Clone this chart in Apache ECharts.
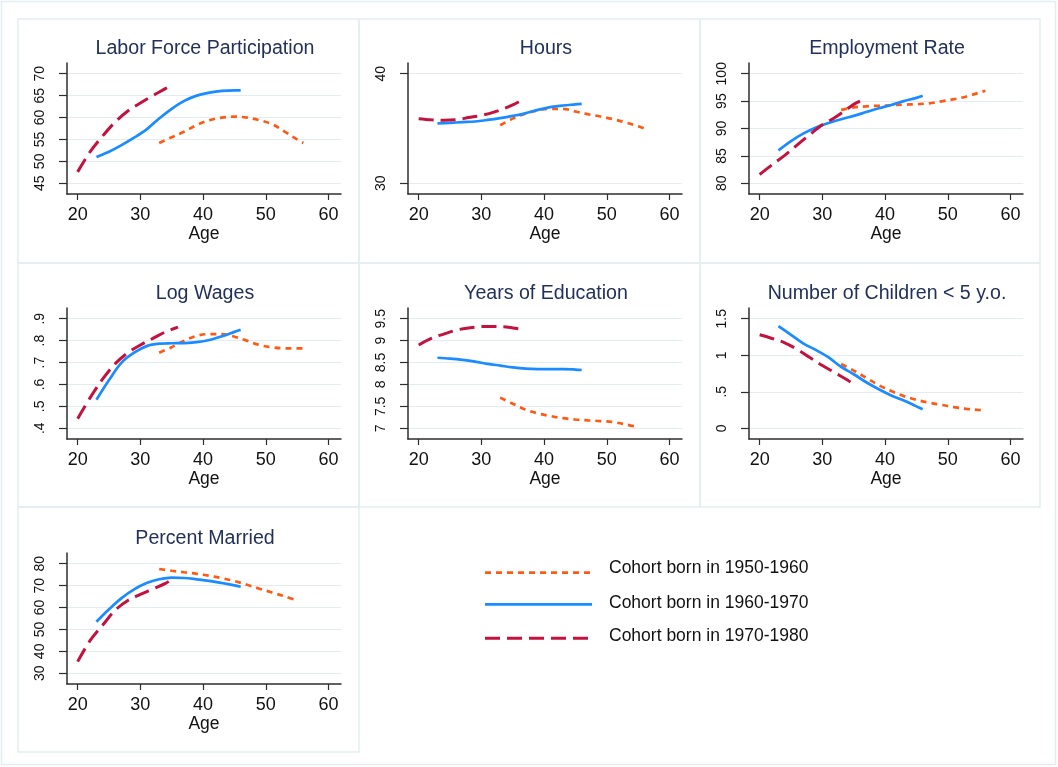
<!DOCTYPE html>
<html>
<head>
<meta charset="utf-8">
<script src="https://cdn.jsdelivr.net/npm/echarts@6/dist/echarts.min.js"></script>
<style>
  html, body { margin: 0; padding: 0; background: #fff; }
  #chart { width: 1058px; height: 767px; }
</style>
</head>
<body>
<div id="chart"></div>
<script>
// ages at which each cohort is observed
const ages5060 = [33, 35, 37, 39, 41, 43, 45, 47, 49, 51, 53, 55, 56]
const ages6070 = [23, 25, 27, 29, 31, 33, 35, 37, 39, 41, 43, 45, 46]
const ages7080 = [20, 22, 24, 26, 28, 30, 32, 34, 35, 36]
const ageTicks = [20, 30, 40, 50, 60]

const cohortNames = ['Cohort born in 1950-1960', 'Cohort born in 1960-1970', 'Cohort born in 1970-1980']
const panelTitles = ['Labor Force Participation', 'Hours', 'Employment Rate', 'Log Wages', 'Years of Education', 'Number of Children < 5 y.o.', 'Percent Married']

// Labor force participation
const lfp5060 = [54.2, 55.5, 56.8, 58.3, 59.4, 60.0, 60.2, 60.0, 59.4, 58.5, 56.8, 55.0, 54.2]
const lfp6070 = [51.0, 52.2, 53.7, 55.4, 57.3, 59.8, 62.0, 63.8, 65.0, 65.7, 66.1, 66.2, 66.2]
const lfp7080 = [47.6, 52.2, 55.8, 59.0, 61.5, 63.3, 65.0, 66.6, 67.5, null]
const lfpTicks = [45, 50, 55, 60, 65, 70]

// Hours
const hours5060 = [35.3, 35.9, 36.35, 36.65, 36.8, 36.8, 36.55, 36.3, 36.1, 35.85, 35.55, 35.2, 35.0]
const hours6070 = [35.47, 35.52, 35.58, 35.64, 35.78, 35.95, 36.15, 36.38, 36.7, 36.95, 37.1, 37.2, 37.25]
const hours7080 = [35.9, 35.8, 35.75, 35.8, 36.0, 36.2, 36.5, 36.9, 37.15, 37.45]
const hoursTicks = [30, 40]

// Employment rate
const emp5060 = [93.4, 93.85, 94.05, 94.15, 94.25, 94.35, 94.45, 94.6, 94.95, 95.35, 95.85, 96.55, 96.9]
const emp6070 = [86.0, 87.7, 89.1, 90.2, 91.0, 91.7, 92.3, 93.0, 93.7, 94.3, 95.0, 95.6, 96.0]
const emp7080 = [81.6, 83.4, 85.1, 87.0, 88.9, 90.7, 92.0, 93.6, 94.4, 95.0]
const empTicks = [80, 85, 90, 95, 100]

// Log wages
const wage5060 = [0.745, 0.77, 0.80, 0.822, 0.83, 0.83, 0.818, 0.80, 0.78, 0.77, 0.765, 0.765, 0.765]
const wage6070 = [0.53, 0.62, 0.70, 0.745, 0.775, 0.786, 0.788, 0.789, 0.793, 0.803, 0.82, 0.84, 0.85]
const wage7080 = [0.444, 0.54, 0.625, 0.695, 0.745, 0.78, 0.81, 0.84, 0.851, 0.862]
const wageTicks = [0.4, 0.5, 0.6, 0.7, 0.8, 0.9]

// Years of education
const edu5060 = [7.70, 7.56, 7.43, 7.34, 7.28, 7.23, 7.20, 7.18, 7.165, 7.14, 7.09, 7.02, null]
const edu6070 = [8.61, 8.59, 8.56, 8.52, 8.47, 8.43, 8.39, 8.36, 8.35, 8.35, 8.35, 8.34, 8.33]
const edu7080 = [8.9, 9.05, 9.15, 9.24, 9.29, 9.32, 9.325, 9.31, 9.29, 9.27]
const eduTicks = [7, 7.5, 8, 8.5, 9, 9.5]

// Number of children under 5
const kids5060 = [0.88, 0.79, 0.69, 0.59, 0.51, 0.44, 0.39, 0.35, 0.32, 0.29, 0.265, 0.25, 0.245]
const kids6070 = [1.40, 1.28, 1.16, 1.07, 0.97, 0.84, 0.74, 0.63, 0.535, 0.45, 0.38, 0.30, 0.26]
const kids7080 = [1.28, 1.23, 1.17, 1.08, 0.97, 0.86, 0.76, 0.66, 0.60, null]
const kidsTicks = [0, 0.5, 1, 1.5]

// Percent married
const mar5060 = [77.6, 76.8, 76.1, 75.4, 74.5, 73.4, 72.1, 70.4, 68.6, 66.9, 65.1, 63.2, null]
const mar6070 = [53.5, 59.2, 64.3, 68.3, 71.2, 72.9, 73.7, 73.5, 72.9, 72.2, 71.2, 70.1, 69.5]
const mar7080 = [35.3, 45.0, 52.0, 58.8, 63.2, 66.0, 68.5, 71.0, 73.0, null]
const marTicks = [30, 40, 50, 60, 70, 80]

const panelData = [
  [lfp5060, lfp6070, lfp7080],
  [hours5060, hours6070, hours7080],
  [emp5060, emp6070, emp7080],
  [wage5060, wage6070, wage7080],
  [edu5060, edu6070, edu7080],
  [kids5060, kids6070, kids7080],
  [mar5060, mar6070, mar7080]
]
const panelTicks = [lfpTicks, hoursTicks, empTicks, wageTicks, eduTicks, kidsTicks, marTicks]
const cohortAges = [ages5060, ages6070, ages7080]

const FONT = "'Liberation Sans', Arial, sans-serif"
const colors = ['#ff5a14', '#1a8cff', '#c4123e']
const dashes = [[6, 5], 'solid', [15, 7]]
const widths = [2.7, 2.7, 3]

// layout
const colLeft = [67, 408, 749]
const rowTop = [63, 308, 553]
const gridW = 274
const gridH = 131
const pad = 0.098

const chart = echarts.init(document.getElementById('chart'))

function fmtTick(v) {
  return String(+v.toFixed(2)).replace(/^0\./, '.')
}

let grid = []
let xAxis = []
let yAxis = []
let series = []
let graphic = []

// outer frame
graphic.push({ type: 'rect', shape: { x: 1.5, y: 1.5, width: 1054, height: 763 }, style: { fill: null, stroke: '#e4eef1', lineWidth: 1.5 }, silent: true })

panelData.forEach((lines, i) => {
  const c = i % 3
  const r = Math.floor(i / 3)
  const left = colLeft[c]
  const top = rowTop[r]
  const ticks = panelTicks[i]
  const span = ticks[ticks.length - 1] - ticks[0]

  // panel box
  const bx = [18, 359, 700][c]
  const bw = c === 2 ? 340 : 341
  const by = [19, 263, 507][r]
  graphic.push({ type: 'rect', shape: { x: bx, y: by, width: bw, height: r === 2 ? 245 : 244 }, style: { fill: null, stroke: '#e4eef1', lineWidth: 1.5 }, silent: true })

  // panel title
  graphic.push({
    type: 'text',
    x: left + gridW / 2 + 1,
    y: top - 14,
    style: { text: panelTitles[i], fill: '#22305a', font: '19.6px ' + FONT, textAlign: 'center', textVerticalAlign: 'middle' }
  })

  grid.push({ left: left, top: top, width: gridW, height: gridH })

  xAxis.push({
    type: 'value',
    gridIndex: i,
    min: 18.3,
    max: 62,
    name: 'Age',
    nameLocation: 'middle',
    nameGap: 31,
    nameTextStyle: { fontSize: 17.5, color: '#111', fontFamily: FONT },
    axisLine: { show: true, onZero: false, lineStyle: { color: '#2e2e2e', width: 1.5 } },
    axisTick: { show: true, length: 6, customValues: ageTicks, lineStyle: { color: '#2e2e2e', width: 1.2 } },
    axisLabel: { customValues: ageTicks, fontSize: 18, color: '#111', margin: 12, fontFamily: FONT },
    splitLine: { show: false }
  })

  yAxis.push({
    type: 'value',
    gridIndex: i,
    min: ticks[0] - span * pad,
    max: ticks[ticks.length - 1] + span * pad,
    axisLine: { show: true, onZero: false, lineStyle: { color: '#2e2e2e', width: 1.5 } },
    axisTick: { show: true, length: 8, customValues: ticks, lineStyle: { color: '#2e2e2e', width: 1.2 } },
    axisLabel: { customValues: ticks, rotate: 90, fontSize: 14, color: '#111', margin: 20, fontFamily: FONT, formatter: fmtTick },
    splitLine: { show: true, lineStyle: { color: '#e3ecf0', width: 1 } }
  })

  lines.forEach((vals, k) => {
    const ages = cohortAges[k]
    const data = []
    vals.forEach((v, j) => {
      if (v !== null) data.push([ages[j], v])
    })
    series.push({
      name: cohortNames[k],
      type: 'line',
      xAxisIndex: i,
      yAxisIndex: i,
      data: data,
      smooth: 0.35,
      showSymbol: false,
      symbol: 'none',
      silent: true,
      lineStyle: { color: colors[k], width: widths[k], type: dashes[k], cap: 'butt' },
      z: 2 + k
    })
  })
})

// legend drawn as graphic lines + text
const legendY = [572.7, 604.3, 638.3]
const legendTextY = [568, 603, 636]
cohortNames.forEach((name, k) => {
  graphic.push({
    type: 'line',
    shape: { x1: 485, y1: legendY[k], x2: 592, y2: legendY[k] },
    style: { stroke: colors[k], lineWidth: widths[k], lineDash: dashes[k] === 'solid' ? null : dashes[k] },
    silent: true
  })
  graphic.push({
    type: 'text',
    x: 609,
    y: legendTextY[k],
    style: { text: name, fill: '#111', font: '17.5px ' + FONT, textAlign: 'left', textVerticalAlign: 'middle' }
  })
})

chart.setOption({
  backgroundColor: '#fff',
  animation: false,
  textStyle: { fontFamily: FONT },
  grid: grid,
  xAxis: xAxis,
  yAxis: yAxis,
  series: series,
  graphic: graphic
})
</script>
</body>
</html>
